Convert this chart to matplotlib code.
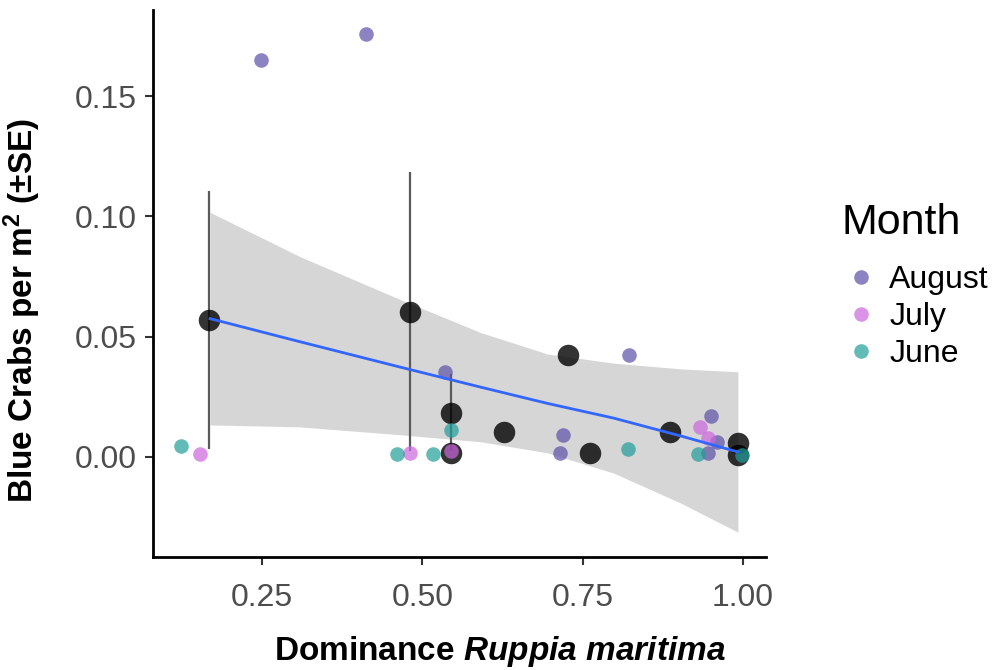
import matplotlib
matplotlib.use('Agg')
import matplotlib.pyplot as plt
from matplotlib.lines import Line2D
import numpy as np

plt.rcParams['font.family'] = ['Liberation Sans', 'DejaVu Sans']
plt.rcParams['mathtext.fontset'] = 'custom'
plt.rcParams['mathtext.rm'] = 'Liberation Sans'
plt.rcParams['mathtext.it'] = 'Liberation Sans:italic'
plt.rcParams['mathtext.bf'] = 'Liberation Sans:bold'
plt.rcParams['mathtext.bfit'] = 'Liberation Sans:italic:bold'

# raw monthly values (x = dominance of Ruppia maritima, y = crabs per m2)
aug_x = [0.248, 0.412, 0.536, 0.822, 0.720, 0.714, 0.950, 0.959, 0.945]
aug_y = [0.165, 0.176, 0.0354, 0.0424, 0.009, 0.0017, 0.017, 0.006, 0.0017]
jul_x = [0.153, 0.480, 0.544, 0.933, 0.945]
jul_y = [0.0013, 0.0017, 0.0025, 0.0125, 0.008]
jun_x = [0.123, 0.461, 0.517, 0.544, 0.820, 0.930, 0.998]
jun_y = [0.0046, 0.0013, 0.0013, 0.0112, 0.0033, 0.0012, 0.0008]

# site means with standard errors (0 where the bar hides under the point)
mean_x = [0.167, 0.480, 0.544, 0.544, 0.627, 0.727, 0.761, 0.886, 0.992, 0.992]
mean_y = [0.057, 0.0603, 0.0183, 0.0017, 0.0104, 0.0424, 0.0017, 0.0104, 0.0058, 0.0008]
mean_se = [0.0535, 0.058, 0.016, 0.0, 0.0, 0.0, 0.0, 0.0, 0.0, 0.0]

# lm smooth confidence band
band_x = [0.169, 0.309, 0.466, 0.591, 0.695, 0.798, 0.903, 0.992]
band_hi = [0.1017, 0.0833, 0.0654, 0.0517, 0.0428, 0.0390, 0.0366, 0.0354]
band_lo = [0.0133, 0.0125, 0.0092, 0.0063, 0.0017, -0.0067, -0.0192, -0.0313]

months = ['August', 'July', 'June']
colors = {'August': '#5c4fa8', 'July': '#cc66dd', 'June': '#1f9e99'}

fig = plt.figure(figsize=(9.96, 6.70), dpi=100)
ax = fig.add_axes([0.1536, 0.1687, 0.615, 0.8163])

ax.fill_between(band_x, band_lo, band_hi, color='#d6d6d6', lw=0, zorder=1)

ax.errorbar(mean_x, mean_y, yerr=mean_se, fmt='none', ecolor='#5a5a5a',
            elinewidth=1.6, capsize=0, zorder=2)
ax.scatter(mean_x, mean_y, s=240, color='black', alpha=0.8, lw=0, zorder=3)

for m, xs, ys in zip(months, [aug_x, jul_x, jun_x], [aug_y, jul_y, jun_y]):
    ax.scatter(xs, ys, s=110, color=colors[m], alpha=0.7, lw=0, zorder=4)

fit_y = (np.array(band_lo) + np.array(band_hi)) / 2
ax.plot(band_x, fit_y, color='#3366FF', lw=2, zorder=5)

ax.set_xlim(0.08, 1.035)
ax.set_ylim(-0.0416, 0.1858)
ax.set_xticks([0.25, 0.50, 0.75, 1.00])
ax.set_xticklabels(['0.25', '0.50', '0.75', '1.00'])
ax.set_yticks([0.00, 0.05, 0.10, 0.15])
ax.set_yticklabels(['0.00', '0.05', '0.10', '0.15'])

for s in ['top', 'right']:
    ax.spines[s].set_visible(False)
for s in ['left', 'bottom']:
    ax.spines[s].set_linewidth(2)
    ax.spines[s].set_color('black')
ax.tick_params(length=6, width=1.5, color='#333333', labelsize=23,
               labelcolor='#4d4d4d', pad=6)
ax.tick_params(axis='x', pad=13)

ax.set_xlabel('Dominance $\\bfit{Ruppia\\ maritima}$', fontsize=24,
              fontweight='bold')
ax.xaxis.set_label_coords(0.567, -0.14)
ax.set_ylabel('Blue Crabs per m$^\\mathbf{2}$ (±SE)', fontsize=24,
              fontweight='bold')
ax.yaxis.set_label_coords(-0.18, 0.45)

handles = [Line2D([], [], ls='none', marker='o', markersize=10.5,
                  markerfacecolor=colors[m], markeredgewidth=0, alpha=0.7)
           for m in months]
leg = fig.legend(handles, months, loc='upper left', bbox_to_anchor=(0.816, 0.74),
                 frameon=False, fontsize=23, title='Month', title_fontsize=31,
                 handletextpad=0.3, labelspacing=0.22, handlelength=1.2)
leg._legend_box.align = 'left'
leg._legend_box.sep = 16

fig.savefig('out.png', dpi=100)
